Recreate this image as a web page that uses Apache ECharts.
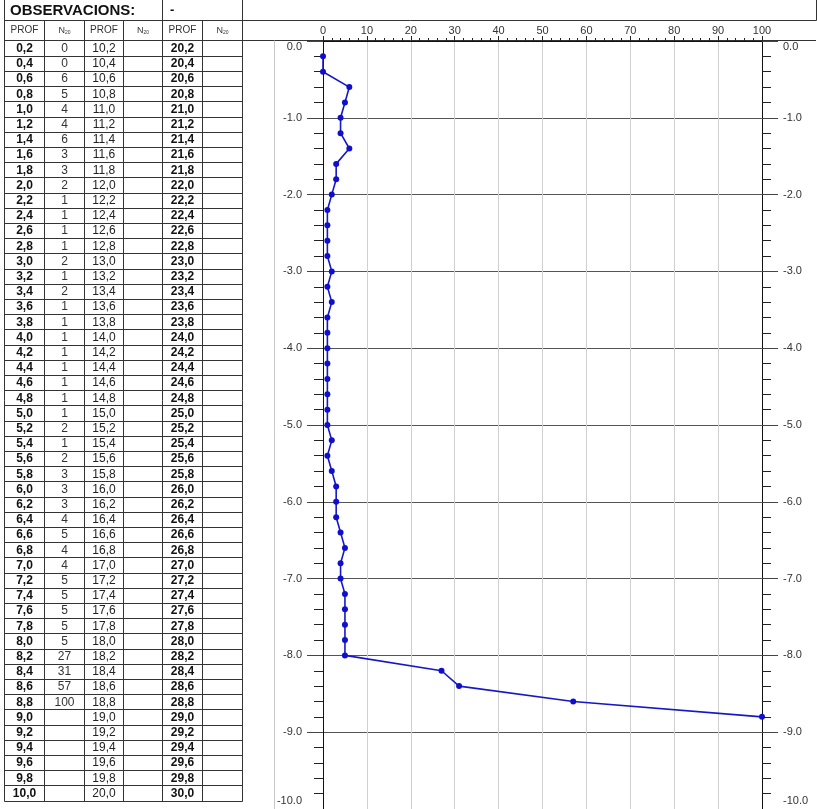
<!DOCTYPE html>
<html><head><meta charset="utf-8">
<script src="https://cdn.jsdelivr.net/npm/echarts@6/dist/echarts.min.js"></script>
<style>html,body{margin:0;padding:0;background:#fff}#c{width:817px;height:809px}</style>
</head><body><div id="c"></div>
<script>
const titleText = "OBSERVACIONS:";
const obsText = "-";
const colHeaders = ["PROF", "N20", "PROF", "N20", "PROF", "N20"];
const prof1 = ["0,2","0,4","0,6","0,8","1,0","1,2","1,4","1,6","1,8","2,0",
  "2,2","2,4","2,6","2,8","3,0","3,2","3,4","3,6","3,8","4,0",
  "4,2","4,4","4,6","4,8","5,0","5,2","5,4","5,6","5,8","6,0",
  "6,2","6,4","6,6","6,8","7,0","7,2","7,4","7,6","7,8","8,0",
  "8,2","8,4","8,6","8,8","9,0","9,2","9,4","9,6","9,8","10,0"];
const prof2 = ["10,2","10,4","10,6","10,8","11,0","11,2","11,4","11,6","11,8","12,0",
  "12,2","12,4","12,6","12,8","13,0","13,2","13,4","13,6","13,8","14,0",
  "14,2","14,4","14,6","14,8","15,0","15,2","15,4","15,6","15,8","16,0",
  "16,2","16,4","16,6","16,8","17,0","17,2","17,4","17,6","17,8","18,0",
  "18,2","18,4","18,6","18,8","19,0","19,2","19,4","19,6","19,8","20,0"];
const prof3 = ["20,2","20,4","20,6","20,8","21,0","21,2","21,4","21,6","21,8","22,0",
  "22,2","22,4","22,6","22,8","23,0","23,2","23,4","23,6","23,8","24,0",
  "24,2","24,4","24,6","24,8","25,0","25,2","25,4","25,6","25,8","26,0",
  "26,2","26,4","26,6","26,8","27,0","27,2","27,4","27,6","27,8","28,0",
  "28,2","28,4","28,6","28,8","29,0","29,2","29,4","29,6","29,8","30,0"];
const n20 = [0,0,6,5,4,4,6,3,3,2,
  1,1,1,1,2,1,2,1,1,1,
  1,1,1,1,1,2,1,2,3,3,
  3,4,5,4,4,5,5,5,5,5,
  27,31,57,100];

const depths = prof1.slice(0, n20.length).map(s => -parseFloat(s.replace(',', '.')));
const points = n20.map((v, i) => [v, depths[i]]);

const FONT = "'Liberation Sans', Arial, sans-serif";
const colX = [4.5, 44.5, 84.5, 123.5, 162.5, 202.5, 242.5];
const rowTop = 40.5, rowH = 15.2, nRows = prof1.length;
const tableBottom = Math.round(rowTop + nRows * rowH) + 0.5;
const g = [];
function ln(x1, y1, x2, y2, c, w) {
  g.push({type: 'line', silent: true, shape: {x1, y1, x2, y2}, style: {stroke: c || '#333', lineWidth: w || 1}});
}
function tx(text, x, y, font, fill, align) {
  g.push({type: 'text', silent: true, x, y, style: {text, font, fill: fill || '#111', align: align || 'center', verticalAlign: 'middle', textAlign: align || 'center', textVerticalAlign: 'middle'}});
}
// frame lines
ln(4.5, 20.5, 816.5, 20.5);
ln(4.5, 40.5, 816, 40.5);
ln(816.5, 0, 816.5, 20.5);
ln(274.5, 40.5, 274.5, 809, '#c8c8c8');
for (let i = 1; i <= nRows; i++) {
  const y = Math.round(rowTop + i * rowH) + 0.5;
  ln(4.5, y, 242.5, y, '#333');
}
colX.forEach((x, k) => {
  const top = (k === 0 || k === 4 || k === 6) ? 0 : 20.5;
  ln(x, top, x, tableBottom, '#333');
});
tx(titleText, 10, 11, "bold 15px " + FONT, '#111', 'left');
tx(obsText, 170, 10, "bold 13px " + FONT, '#111', 'left');
colHeaders.forEach((h, k) => {
  const cx = (colX[k] + colX[k + 1]) / 2;
  if (h === 'PROF') {
    tx(h, cx, 30.5, "10px " + FONT, '#333');
  } else {
    g.push({type: 'text', silent: true, x: cx, y: 30.5, style: {
      text: '{a|N}{b|20}', align: 'center', verticalAlign: 'middle', textAlign: 'center', textVerticalAlign: 'middle',
      rich: {a: {font: "9px " + FONT, fill: '#333'}, b: {font: "5px " + FONT, fill: '#333', verticalAlign: 'bottom', padding: [4, 0, 0, 0]}}
    }});
  }
});
for (let i = 0; i < nRows; i++) {
  const cy = rowTop + (i + 0.5) * rowH + 0.5;
  tx(prof1[i], (colX[0] + colX[1]) / 2, cy, "bold 12px " + FONT, '#111');
  if (i < n20.length) tx(String(n20[i]), (colX[1] + colX[2]) / 2, cy, "12px " + FONT, '#333');
  tx(prof2[i], (colX[2] + colX[3]) / 2, cy, "12px " + FONT, '#222');
  tx(prof3[i], (colX[4] + colX[5]) / 2, cy, "bold 12px " + FONT, '#111');
}

const yLabelFmt = v => v === 0 ? '{t|0.0}' : (v === -10 ? '{b|-10.0}' : '{n|' + v.toFixed(1) + '}');
const yRich = {
  t: {fontSize: 11, fontFamily: FONT, color: '#333', padding: [12, 0, 0, 0]},
  b: {fontSize: 11, fontFamily: FONT, color: '#333', padding: [0, 0, 16, 0]},
  n: {fontSize: 11, fontFamily: FONT, color: '#333'}
};
function yAxisDef(pos) {
  return {
    type: 'value', position: pos, min: -10, max: 0, interval: 1,
    axisLine: {show: true, onZero: false, lineStyle: {color: '#111', width: 1}},
    axisTick: {show: true, length: 16, lineStyle: {color: '#444'}},
    minorTick: {show: true, splitNumber: 5, length: 9, lineStyle: {color: '#222'}},
    axisLabel: {formatter: yLabelFmt, rich: yRich, margin: 21},
    splitLine: {show: pos === 'left', lineStyle: {color: '#555', width: 1}},
    minorSplitLine: {show: false}
  };
}

const chart = echarts.init(document.getElementById('c'), null, {renderer: 'canvas'});
chart.setOption({
  animation: false,
  backgroundColor: '#fff',
  grid: {left: 323, right: 55, top: 41, height: 770, containLabel: false},
  xAxis: {
    type: 'value', position: 'top', min: 0, max: 100, interval: 10,
    axisLine: {show: true, onZero: false, lineStyle: {color: '#111'}},
    axisTick: {show: true, length: 5, lineStyle: {color: '#222'}},
    minorTick: {show: true, splitNumber: 5, length: 3, lineStyle: {color: '#222'}},
    axisLabel: {fontSize: 11, fontFamily: FONT, color: '#333', margin: 5},
    splitLine: {show: true, lineStyle: {color: '#d0d0d0'}}
  },
  yAxis: [yAxisDef('left'), yAxisDef('right')],
  series: [{
    type: 'line', data: points, yAxisIndex: 0, symbol: 'circle', symbolSize: 6,
    lineStyle: {color: '#1717c8', width: 1.6},
    itemStyle: {color: '#1010cc'},
    clip: false
  }],
  graphic: {elements: g}
});
</script></body></html>
